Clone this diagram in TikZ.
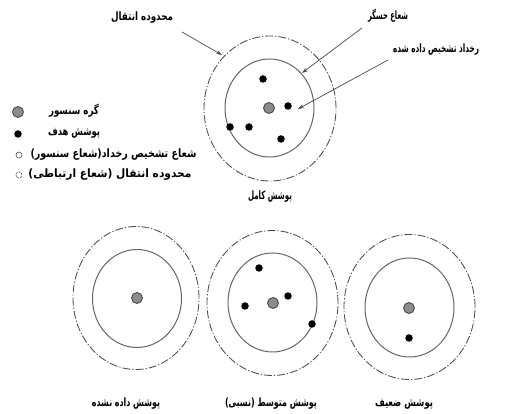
\documentclass[tikz,border=0pt]{standalone}
\usepackage{fontspec}
\newfontfamily\arabicfont[Script=Arabic]{DejaVu Sans}
\TeXXeTstate=1
\usetikzlibrary{arrows.meta,shapes.geometric}
\newlength\fitlen
\newcommand\fitw[2]{\settowidth\fitlen{#2}\pgfmathsetmacro\fitfac{#1/\fitlen}\scalebox{\fitfac}[1]{#2}}
\begin{document}
\begin{tikzpicture}[x=1pt,y=-1pt,
  outerc/.style={ellipse,draw=black!70,line width=0.85pt,dash pattern=on 8pt off 2pt on 1.2pt off 2pt,inner sep=0pt},
  innerc/.style={ellipse,draw=black!60,line width=1pt,inner sep=0pt},
  sensor/.style={circle,draw=black!75,fill=black!45,line width=0.8pt,minimum size=11pt,inner sep=0pt},
  target/.style={circle,fill=black,minimum size=7.5pt,inner sep=0pt},
  lbl/.style={font=\arabicfont\bfseries\fontsize{11.5}{13}\selectfont,inner sep=0pt},
  arr/.style={draw=black!70,line width=0.7pt,-{Stealth[length=6pt,width=4pt]}},
  legopen/.style={circle,draw=black!70,line width=0.6pt,minimum size=6pt,inner sep=0pt},
  legdash/.style={circle,draw=black!70,line width=0.6pt,dash pattern=on 2pt off 1pt,minimum size=6pt,inner sep=0pt}
]
\useasboundingbox[fill=white] (0,0) rectangle (507,414);

% top: full coverage
\node[outerc,minimum width=132pt,minimum height=145pt] (to) at (270,108.5) {};
\node[innerc,minimum width=89pt,minimum height=98pt] (ti) at (269.5,108) {};
\node[sensor] (ts) at (269,108) {};
\node[target] (tt1) at (263,79) {};
\node[target] (tt2) at (288,106) {};
\node[target] (tt3) at (230,127) {};
\node[target] (tt4) at (249,127) {};
\node[target] (tt5) at (281,139) {};
\node[lbl] (lfull) at (270,197) {\fitw{44pt}{\beginR پوشش کامل\endR}};

% annotations
\node[lbl] (ltrans) at (142,18) {\fitw{62pt}{\beginR محدوده انتقال\endR}};
\node[lbl] (lsens) at (388,16) {\fitw{40pt}{\beginR شعاع حسگر\endR}};
\node[lbl] (levent) at (436,50) {\fitw{86pt}{\beginR رخداد تشخیص داده شده\endR}};
\coordinate (a1s) at (182,32);
\coordinate (a1e) at (222,55);
\coordinate (a2s) at (362,28);
\coordinate (a2e) at (302,73);
\coordinate (a3s) at (388,60);
\coordinate (a3e) at (298,109);
\draw[arr] (a1s) -- (a1e);
\draw[arr] (a2s) -- (a2e);
\draw[arr] (a3s) -- (a3e);

% legend
\node[sensor] (gs) at (18,112) {};
\node[lbl] (gls) at (74,111) {\fitw{50pt}{\beginR گره سنسور\endR}};
\node[target] (gt) at (18,134) {};
\node[lbl] (glt) at (74,133) {\fitw{52pt}{\beginR پوشش هدف\endR}};
\node[legopen] (go) at (19,155) {};
\node[lbl] (glo) at (113.5,155) {\fitw{166pt}{\beginR شعاع تشخیص رخداد(شعاع سنسور)\endR}};
\node[legdash] (gd) at (19,175) {};
\node[lbl] (gld) at (110,175) {\fitw{163pt}{\beginR محدوده انتقال (شعاع ارتباطی)\endR}};

% bottom left: not covered
\node[outerc,minimum width=126pt,minimum height=143pt] (lo) at (136,298) {};
\node[innerc,minimum width=89pt,minimum height=98pt] (li) at (137,298.5) {};
\node[sensor] (ls) at (137,298) {};
\node[lbl] (lnot) at (126,404) {\fitw{68pt}{\beginR پوشش داده نشده\endR}};

% bottom middle: medium coverage
\node[outerc,minimum width=131pt,minimum height=145pt] (mo) at (272.5,303) {};
\node[innerc,minimum width=89pt,minimum height=99pt] (mi) at (272.5,302.5) {};
\node[sensor] (ms) at (273,303) {};
\node[target] (mt1) at (259,268) {};
\node[target] (mt2) at (288,296) {};
\node[target] (mt3) at (245,306) {};
\node[target] (mt4) at (312,324) {};
\node[lbl] (lmed) at (271,404) {\fitw{92pt}{\beginR پوشش متوسط (نسبی)\endR}};

% bottom right: weak coverage
\node[outerc,minimum width=131pt,minimum height=145pt] (ro) at (409.5,307) {};
\node[innerc,minimum width=89pt,minimum height=99pt] (ri) at (409.5,307.5) {};
\node[sensor] (rs) at (409,308) {};
\node[target] (rt1) at (409,338) {};
\node[lbl] (lweak) at (404,404) {\fitw{58pt}{\beginR پوشش ضعیف\endR}};
\end{tikzpicture}
\end{document}
